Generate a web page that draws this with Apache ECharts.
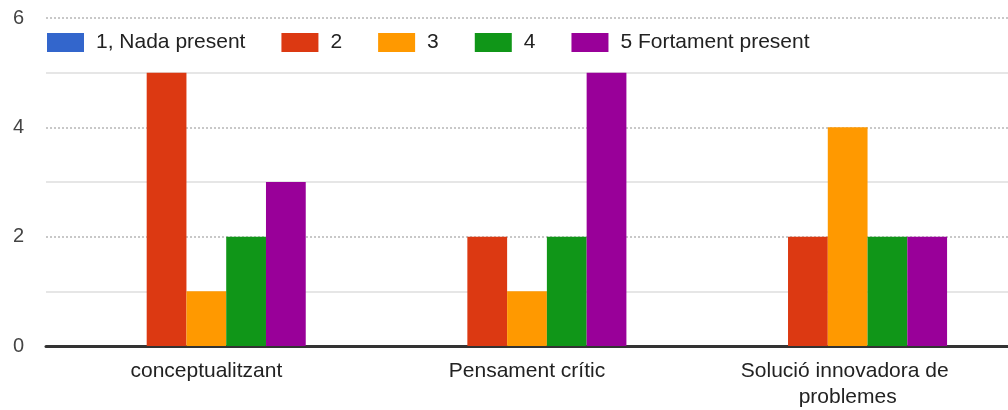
<!DOCTYPE html>
<html>
<head>
<meta charset="utf-8">
<script src="https://cdn.jsdelivr.net/npm/echarts@6/dist/echarts.min.js"></script>
<style>
  html, body { margin: 0; padding: 0; background: #fff; }
  #chart { width: 1008px; height: 410px; }
</style>
</head>
<body>
<div id="chart"></div>
<script>
// Survey answers per skill, grouped by agreement level
const categories = ['conceptualitzant', 'Pensament crític', 'Solució innovadora de problemes'];
const seriesNames = ['1, Nada present', '2', '3', '4', '5 Fortament present'];
const level1 = [0, 0, 0];
const level2 = [5, 2, 2];
const level3 = [1, 1, 4];
const level4 = [2, 2, 2];
const level5 = [3, 5, 2];
const yTicks = [0, 2, 4, 6];

const colors = ['#3366cc', '#dc3912', '#ff9900', '#109618', '#990099'];
const values = [level1, level2, level3, level4, level5];
const font = '"Liberation Sans", Arial, sans-serif';

const chart = echarts.init(document.getElementById('chart'), null, { renderer: 'canvas' });
chart.setOption({
  animation: false,
  textStyle: { fontFamily: font },
  legend: {
    top: 32,
    left: 47,
    padding: 0,
    itemWidth: 37,
    itemHeight: 19,
    itemGap: 36,
    icon: 'rect',
    textStyle: { fontSize: 21, color: '#222', fontFamily: font, padding: [0, 0, 0, 7] },
    data: seriesNames
  },
  grid: { left: 46, top: 18, width: 969, bottom: 63, containLabel: false },
  xAxis: {
    type: 'category',
    data: categories,
    axisLine: { show: true, lineStyle: { color: '#333', width: 3 } },
    axisTick: { show: false },
    axisLabel: {
      fontSize: 21, color: '#222', fontFamily: font, margin: 12,
      lineHeight: 26, width: 250, overflow: 'break', interval: 0
    }
  },
  yAxis: {
    type: 'value',
    min: yTicks[0],
    max: yTicks[yTicks.length - 1],
    interval: 2,
    axisLine: { show: false },
    axisTick: { show: false },
    axisLabel: { fontSize: 20, color: '#444', fontFamily: font, margin: 22 },
    splitLine: { show: true, lineStyle: { color: '#c8c8c8', width: 2, type: [2, 2] } },
    minorTick: { show: false, splitNumber: 2 },
    minorSplitLine: { show: true, lineStyle: { color: '#e6e6e6', width: 2 } }
  },
  series: seriesNames.map((name, i) => ({
    name: name,
    type: 'bar',
    data: values[i],
    barGap: '0%',
    barCategoryGap: '38%',
    itemStyle: { color: colors[i] },
    emphasis: { disabled: true }
  }))
});
</script>
</body>
</html>
